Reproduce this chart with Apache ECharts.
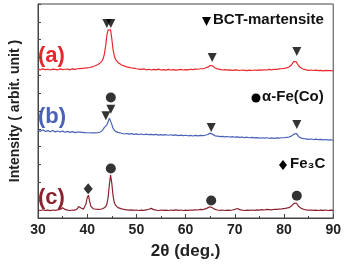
<!DOCTYPE html>
<html>
<head>
<meta charset="utf-8">
<script src="https://cdn.jsdelivr.net/npm/echarts@6/dist/echarts.min.js"></script>
<style>
  html, body { margin: 0; padding: 0; background: #fff; }
  #chart { width: 344px; height: 265px; }
</style>
</head>
<body>
<div id="chart"></div>
<script>
// 2θ positions (deg.), denser around the peaks
var angles = [
  30, 30.5, 31, 31.5, 32, 32.5, 33, 33.5, 34, 34.5, 35, 35.5, 36, 36.5, 37, 37.5,
  38, 38.25, 38.5, 38.75, 39, 39.25, 39.5, 39.75, 40, 40.25, 40.5, 40.75, 41, 41.25, 41.5, 41.75,
  42, 42.25, 42.5, 42.75, 43, 43.25, 43.5, 43.75, 44, 44.25, 44.5, 44.75, 45, 45.25, 45.5, 45.75,
  46, 46.25, 46.5,
  47, 47.5, 48, 48.5, 49, 49.5, 50, 50.5, 51, 51.5, 52, 52.5, 53, 53.5, 54, 54.5, 55, 55.5,
  56, 56.5, 57, 57.5, 58, 58.5, 59, 59.5, 60, 60.5, 61, 61.5, 62, 62.5, 63, 63.5,
  64, 64.25, 64.5, 64.75, 65, 65.25, 65.5, 65.75, 66, 66.25, 66.5,
  67, 67.5, 68, 68.5, 69, 69.5, 70, 70.5, 71, 71.5, 72, 72.5, 73, 73.5, 74, 74.5, 75, 75.5,
  76, 76.5, 77, 77.5, 78, 78.5, 79, 79.5, 80, 80.5,
  81, 81.25, 81.5, 81.75, 82, 82.25, 82.5, 82.75, 83, 83.25, 83.5, 83.75, 84,
  84.5, 85, 85.5, 86, 86.5, 87, 87.5, 88, 88.5, 89, 89.5, 90
];

// (a) 红色曲线
var seriesA = [
  8.35, 8.31, 8.36, 8.32, 8.34, 8.30, 8.35, 8.33, 8.31, 8.36, 8.32, 8.34, 8.35, 8.31, 8.36, 8.33,
  8.37, 8.34, 8.38, 8.35, 8.39, 8.36, 8.40, 8.38, 8.42, 8.40, 8.44, 8.43, 8.47, 8.47, 8.52, 8.54,
  8.58, 8.61, 8.66, 8.72, 8.80, 8.94, 9.20, 9.65, 10.25, 10.55, 10.45, 10.55, 10.05, 9.45, 9.10, 8.90,
  8.79, 8.72, 8.66,
  8.58, 8.53, 8.47, 8.45, 8.41, 8.40, 8.37, 8.35, 8.33, 8.36, 8.31, 8.34, 8.30, 8.33, 8.31, 8.35, 8.30, 8.32,
  8.29, 8.33, 8.30, 8.32, 8.29, 8.31, 8.33, 8.30, 8.32, 8.31, 8.34, 8.32, 8.35, 8.34, 8.37, 8.37,
  8.41, 8.43, 8.46, 8.50, 8.55, 8.58, 8.53, 8.46, 8.41, 8.38, 8.36,
  8.33, 8.30, 8.32, 8.29, 8.31, 8.28, 8.31, 8.29, 8.27, 8.30, 8.28, 8.26, 8.29, 8.27, 8.30, 8.28, 8.31, 8.29,
  8.31, 8.30, 8.33, 8.31, 8.34, 8.33, 8.36, 8.37, 8.39, 8.42,
  8.47, 8.52, 8.58, 8.67, 8.78, 8.86, 8.76, 8.62, 8.52, 8.45, 8.40, 8.37, 8.34,
  8.31, 8.28, 8.30, 8.27, 8.29, 8.26, 8.28, 8.25, 8.28, 8.26, 8.27, 8.25
];

// (b) 蓝色曲线
var seriesB = [
  4.92, 4.86, 4.95, 4.85, 4.90, 4.84, 4.91, 4.83, 4.88, 4.82, 4.87, 4.81, 4.86, 4.80, 4.84, 4.79,
  4.82, 4.77, 4.81, 4.76, 4.80, 4.75, 4.79, 4.76, 4.78, 4.74, 4.78, 4.74, 4.77, 4.73, 4.77, 4.74,
  4.78, 4.77, 4.81, 4.83, 4.88, 4.95, 5.08, 5.14, 5.22, 5.40, 5.60, 5.56, 5.25, 5.03, 4.92, 4.86,
  4.82, 4.80, 4.77,
  4.75, 4.71, 4.74, 4.70, 4.73, 4.69, 4.72, 4.68, 4.71, 4.67, 4.70, 4.67, 4.69, 4.66, 4.69, 4.65, 4.68, 4.65,
  4.67, 4.64, 4.67, 4.63, 4.66, 4.62, 4.65, 4.62, 4.64, 4.61, 4.63, 4.60, 4.63, 4.61, 4.63, 4.62,
  4.64, 4.66, 4.68, 4.72, 4.76, 4.75, 4.69, 4.64, 4.61, 4.58, 4.59,
  4.56, 4.58, 4.55, 4.57, 4.54, 4.56, 4.53, 4.55, 4.52, 4.54, 4.51, 4.53, 4.50, 4.52, 4.49, 4.51, 4.48, 4.50,
  4.48, 4.50, 4.47, 4.49, 4.47, 4.49, 4.48, 4.50, 4.50, 4.52,
  4.54, 4.56, 4.59, 4.63, 4.70, 4.78, 4.74, 4.63, 4.56, 4.51, 4.48, 4.46, 4.45,
  4.44, 4.41, 4.43, 4.40, 4.42, 4.39, 4.41, 4.38, 4.40, 4.37, 4.39, 4.36
];

// (c) 暗红曲线
var seriesC = [
  0.45, 0.42, 0.46, 0.43, 0.44, 0.41, 0.45, 0.43, 0.46, 0.48, 0.58, 0.48, 0.44, 0.42, 0.45, 0.44,
  0.52, 0.64, 0.73, 0.56, 0.49, 0.50, 0.56, 0.78, 1.15, 1.28, 0.92, 0.65, 0.56, 0.52, 0.51, 0.49,
  0.50, 0.48, 0.50, 0.49, 0.51, 0.53, 0.56, 0.63, 0.78, 1.15, 1.85, 2.42, 1.95, 1.25, 0.88, 0.72,
  0.63, 0.58, 0.55,
  0.51, 0.48, 0.46, 0.44, 0.46, 0.43, 0.45, 0.42, 0.44, 0.43, 0.46, 0.49, 0.54, 0.47, 0.44, 0.42, 0.45, 0.43,
  0.44, 0.42, 0.45, 0.43, 0.46, 0.43, 0.45, 0.42, 0.44, 0.43, 0.45, 0.44, 0.46, 0.45, 0.48, 0.47,
  0.51, 0.54, 0.57, 0.61, 0.63, 0.61, 0.56, 0.51, 0.48, 0.46, 0.45,
  0.43, 0.45, 0.42, 0.44, 0.43, 0.45, 0.48, 0.53, 0.47, 0.44, 0.42, 0.44, 0.43, 0.45, 0.43, 0.46, 0.44, 0.47,
  0.45, 0.48, 0.47, 0.46, 0.49, 0.48, 0.50, 0.51, 0.53, 0.55,
  0.58, 0.62, 0.67, 0.74, 0.82, 0.88, 0.84, 0.73, 0.64, 0.58, 0.54, 0.51, 0.49,
  0.46, 0.44, 0.45, 0.43, 0.44, 0.42, 0.44, 0.43, 0.45, 0.42, 0.44, 0.43
];

// 峰位标记 [2θ, 高度]
var bctMarks = [[44.0, 10.9], [44.8, 10.9], [65.4, 9.0], [82.6, 9.33],
                [43.8, 5.73], [44.8, 6.1], [65.2, 5.07], [82.6, 5.24]];
var feMarks = [[44.8, 6.76], [44.8, 2.78], [65.2, 0.98], [82.6, 1.25]];
var fe3cMarks = [[40.2, 1.64]];

var xTicks = [30, 40, 50, 60, 70, 80, 90];

function pairs(ys) {
    return angles.map(function (x, i) { return [x, ys[i]]; });
}

var chart = echarts.init(document.getElementById('chart'));
var boldFont = 'Arial, "Liberation Sans", sans-serif';

chart.setOption({
    animation: false,
    grid: {
        left: 33, right: 10, top: 4, bottom: 41,
        show: true, borderColor: '#444', borderWidth: 1
    },
    xAxis: {
        type: 'value',
        min: xTicks[0], max: xTicks[xTicks.length - 1], interval: 10,
        name: '2θ (deg.)',
        nameLocation: 'middle',
        nameGap: 25,
        nameTextStyle: { fontSize: 17, fontWeight: 'bold', color: '#222', fontFamily: boldFont },
        axisLine: { lineStyle: { color: '#444', width: 1 } },
        axisTick: { inside: true, length: 4, lineStyle: { color: '#444' } },
        minorTick: { show: true, splitNumber: 2, length: 2, lineStyle: { color: '#444' } },
        axisLabel: { fontSize: 14, fontWeight: 'bold', color: '#222', margin: 5, fontFamily: boldFont },
        splitLine: { show: false }
    },
    yAxis: {
        type: 'value',
        min: 0, max: 12, interval: 1,
        name: 'Intensity ( arbit. unit )',
        nameLocation: 'middle',
        nameGap: 16,
        nameTextStyle: { fontSize: 14, fontWeight: 'bold', color: '#222', fontFamily: boldFont },
        axisLine: { show: true, lineStyle: { color: '#444', width: 1 } },
        axisTick: { inside: true, length: 3, lineStyle: { color: '#444' } },
        axisLabel: { show: false },
        splitLine: { show: false }
    },
    series: [
        { type: 'line', data: pairs(seriesA), showSymbol: false, lineStyle: { color: '#e8282e', width: 1.2 }, z: 2 },
        { type: 'line', data: pairs(seriesB), showSymbol: false, lineStyle: { color: '#4a63b8', width: 1.2 }, z: 2 },
        { type: 'line', data: pairs(seriesC), showSymbol: false, lineStyle: { color: '#8b2331', width: 1.2 }, z: 2 },
        { type: 'scatter', data: bctMarks, symbol: 'triangle', symbolRotate: 180, symbolSize: [9, 9],
          itemStyle: { color: '#000' }, z: 3 },
        { type: 'scatter', data: feMarks, symbol: 'circle', symbolSize: 10, itemStyle: { color: '#000' }, z: 3 },
        { type: 'scatter', data: fe3cMarks, symbol: 'diamond', symbolSize: [9, 11], itemStyle: { color: '#000' }, z: 3 }
    ],
    graphic: [
        // 样品标签
        { type: 'text', left: 38, top: 45, style: { text: '(a)', fill: '#e8282e', font: 'bold 22px ' + boldFont } },
        { type: 'text', left: 38, top: 106, style: { text: '(b)', fill: '#4a63b8', font: 'bold 22px ' + boldFont } },
        { type: 'text', left: 38, top: 187, style: { text: '(c)', fill: '#8b2331', font: 'bold 22px ' + boldFont } },
        // 图例
        { type: 'polygon', shape: { points: [[202, 17], [211, 17], [206.5, 26]] }, style: { fill: '#000' } },
        { type: 'text', left: 213, top: 12, style: { text: 'BCT-martensite', fill: '#111', font: 'bold 15px ' + boldFont } },
        { type: 'circle', shape: { cx: 256, cy: 98, r: 4.5 }, style: { fill: '#000' } },
        { type: 'text', left: 262, top: 89, style: { text: 'α-Fe(Co)', fill: '#111', font: 'bold 15px ' + boldFont } },
        { type: 'polygon', shape: { points: [[283, 160], [287, 165], [283, 170], [279, 165]] }, style: { fill: '#000' } },
        { type: 'text', left: 290, top: 156, style: { text: 'Fe₃C', fill: '#111', font: 'bold 15px ' + boldFont } }
    ]
});
</script>
</body>
</html>
